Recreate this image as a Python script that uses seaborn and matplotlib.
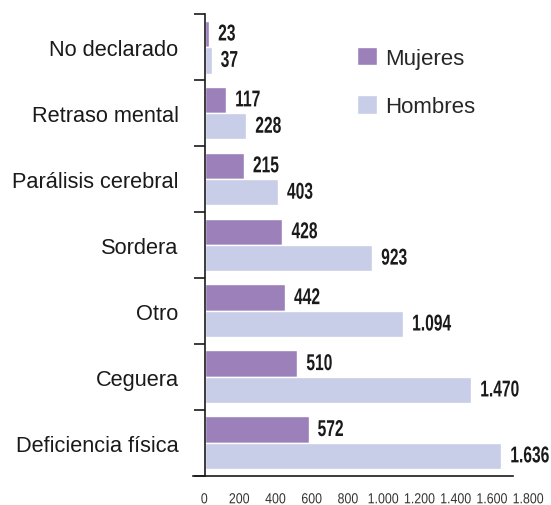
import matplotlib
matplotlib.use("Agg")
import matplotlib.pyplot as plt
import matplotlib.patheffects as pe
from matplotlib.transforms import Affine2D
import pandas as pd
import seaborn as sns

# data
categorias = ["No declarado", "Retraso mental", "Parálisis cerebral", "Sordera",
              "Otro", "Ceguera", "Deficiencia física"]
mujeres = [23, 117, 215, 428, 442, 510, 572]
hombres = [37, 228, 403, 923, 1094, 1470, 1636]
series = ["Mujeres", "Hombres"]
x_ticks = [0, 200, 400, 600, 800, 1000, 1200, 1400, 1600, 1800]

colores = {"Mujeres": "#9B80BA", "Hombres": "#C8CDE8"}


def miles(v):
    # thousands separator with a dot
    return f"{int(v):,}".replace(",", ".")


class Estrecho(pe.AbstractPathEffect):
    # no narrow font installed, so squeeze the glyphs horizontally
    def __init__(self, sx):
        super().__init__()
        self.sx = sx

    def draw_path(self, renderer, gc, tpath, affine, rgbFace=None):
        renderer.draw_path(gc, tpath, Affine2D().scale(self.sx, 1) + affine, rgbFace)


df = pd.DataFrame({
    "categoria": categorias * 2,
    "valor": mujeres + hombres,
    "sexo": [series[0]] * len(mujeres) + [series[1]] * len(hombres),
})

sns.set_style("white")
plt.rcParams["font.family"] = ["Liberation Sans", "DejaVu Sans"]

fig = plt.figure(figsize=(5.51, 5.06), dpi=100)
ax = fig.add_axes([0.3503, 0.058, 0.6134, 0.912])

sns.barplot(data=df, x="valor", y="categoria", hue="sexo", order=categorias,
            hue_order=series, palette=colores, orient="h", width=0.8,
            saturation=1, ax=ax)

for cont in ax.containers:
    etiquetas = ax.bar_label(cont, labels=[miles(b.get_width()) for b in cont],
                             padding=6.5, fontsize=16.5, fontweight="bold",
                             color="#1a1a1a")
    for t in etiquetas:
        t.set_path_effects([Estrecho(0.68)])

ax.set_xlim(-66, 1800)
ax.set_ylim(6.5, -0.5)
ax.set_xlabel("")
ax.set_ylabel("")

ax.spines["left"].set_position(("data", 0))
ax.spines["top"].set_visible(False)
ax.spines["right"].set_visible(False)
ax.spines["bottom"].set_bounds(-66, 1700)
for s in ["left", "bottom"]:
    ax.spines[s].set_color("#1a1a1a")
    ax.spines[s].set_linewidth(1.2)

ax.set_xticks(x_ticks)
ax.set_xticklabels([miles(t) for t in x_ticks], fontsize=10.5, color="#333333")
for t in ax.get_xticklabels():
    t.set_path_effects([Estrecho(0.85)])
ax.tick_params(axis="x", length=0, pad=12)

ax.set_yticks(range(len(categorias)))
ax.set_yticklabels(categorias, fontsize=15.7, color="#1a1a1a")
ax.set_yticks([i - 0.5 for i in range(len(categorias) + 1)], minor=True)
ax.tick_params(axis="y", which="major", length=0, pad=19)
ax.tick_params(axis="y", which="minor", length=8, width=1.2, direction="out",
               color="#1a1a1a", left=True)

leg = ax.legend(loc="upper left", bbox_to_anchor=(337 / 551, 1 - 28 / 506),
                bbox_transform=fig.transFigure, frameon=False, fontsize=16,
                handlelength=0.9, handleheight=0.9, labelspacing=1.18,
                handletextpad=0.35)

fig.savefig("out.png", dpi=100)
